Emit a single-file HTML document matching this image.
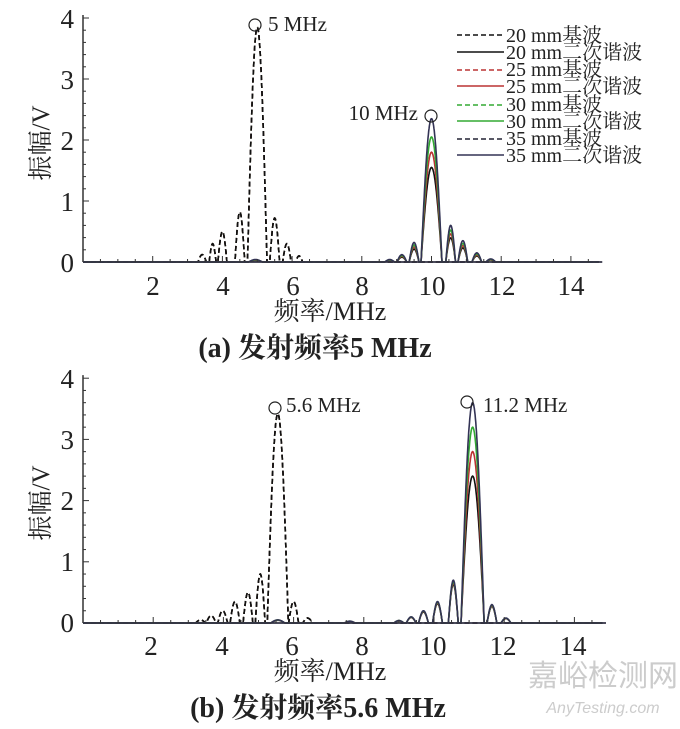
<!DOCTYPE html>
<html><head><meta charset="utf-8"><style>
body{margin:0;background:#fff;}
svg{display:block;}
text{font-family:"Liberation Serif","Noto Serif CJK SC",serif;fill:#222;}
</style></head><body>
<svg id="s" width="680" height="729" viewBox="0 0 680 729" xmlns="http://www.w3.org/2000/svg">
<g id="g"></g>
<g font-size="27" text-anchor="end">
<text x="74" y="28">4</text><text x="74" y="89">3</text><text x="74" y="150">2</text><text x="74" y="211">1</text><text x="74" y="272">0</text>
<text x="74" y="388">4</text><text x="74" y="449">3</text><text x="74" y="510">2</text><text x="74" y="571">1</text><text x="74" y="632">0</text>
</g>
<g font-size="27" text-anchor="middle">
<text x="153" y="295">2</text><text x="223" y="295">4</text><text x="293" y="295">6</text><text x="362" y="295">8</text><text x="432" y="295">10</text><text x="502" y="295">12</text><text x="571" y="295">14</text>
<text x="151" y="655">2</text><text x="222" y="655">4</text><text x="292" y="655">6</text><text x="362" y="655">8</text><text x="433" y="655">10</text><text x="503" y="655">12</text><text x="573" y="655">14</text>
</g>
<text x="330" y="320" font-size="26" text-anchor="middle">频率/MHz</text>
<text transform="translate(49,143) rotate(-90)" font-size="25" text-anchor="middle">振幅/V</text>
<text x="315" y="357" font-size="28" font-weight="bold" text-anchor="middle">(a) 发射频率5 MHz</text>
<text x="268" y="31" font-size="21">5 MHz</text>
<text x="418" y="120" font-size="21" text-anchor="end">10 MHz</text>
<g font-size="20">
<text x="506" y="42">20 mm基波</text>
<text x="506" y="59">20 mm二次谐波</text>
<text x="506" y="76">25 mm基波</text>
<text x="506" y="93">25 mm二次谐波</text>
<text x="506" y="111">30 mm基波</text>
<text x="506" y="128">30 mm二次谐波</text>
<text x="506" y="145">35 mm基波</text>
<text x="506" y="162">35 mm二次谐波</text>
</g>
<g stroke-width="1.6">
<line x1="457" y1="35" x2="504" y2="35" stroke="#111" stroke-dasharray="5,3"/>
<line x1="457" y1="52" x2="504" y2="52" stroke="#111"/>
<line x1="457" y1="70" x2="504" y2="70" stroke="#b33" stroke-dasharray="5,3"/>
<line x1="457" y1="86" x2="504" y2="86" stroke="#b33"/>
<line x1="457" y1="105" x2="504" y2="105" stroke="#3a3" stroke-dasharray="5,3"/>
<line x1="457" y1="121" x2="504" y2="121" stroke="#3a3"/>
<line x1="457" y1="139" x2="504" y2="139" stroke="#223" stroke-dasharray="5,3"/>
<line x1="457" y1="155" x2="504" y2="155" stroke="#335"/>
</g>
<text x="330" y="680" font-size="26" text-anchor="middle">频率/MHz</text>
<text transform="translate(49,503) rotate(-90)" font-size="25" text-anchor="middle">振幅/V</text>
<text x="318" y="717" font-size="28" font-weight="bold" text-anchor="middle">(b) 发射频率5.6 MHz</text>
<text x="286" y="412" font-size="21">5.6 MHz</text>
<text x="483" y="412" font-size="21">11.2 MHz</text>
<text x="603" y="686" font-size="30" text-anchor="middle" style="fill:#ccc;font-family:'Noto Sans CJK SC',sans-serif">嘉峪检测网</text>
<text x="603" y="713" font-size="16" font-style="italic" text-anchor="middle" style="fill:#ccc;font-family:'Liberation Sans',sans-serif">AnyTesting.com</text>
</svg>
<script>
var g=document.getElementById('g'),NS='http://www.w3.org/2000/svg';
function el(n,a){var e=document.createElementNS(NS,n);for(var k in a)e.setAttribute(k,a[k]);g.appendChild(e);return e;}
function bump(f,c,a,hw){var d=Math.abs(f-c);return d<hw?a*Math.cos(d/hw*Math.PI/2):0;}
function panel(x0,px2,y0,py,curves){
 el('line',{x1:x0,y1:y0-py*4.05,x2:x0,y2:y0,stroke:'#333','stroke-width':1.5});
 for(var v=0;v<=4.001;v+=0.2){var y=y0-v*py;el('line',{x1:x0,y1:y,x2:x0+(Math.abs(v-Math.round(v))<0.01?6:3),y2:y,stroke:'#333','stroke-width':1});}
 curves.forEach(function(p){
  var d='';for(var f=0;f<=14.8;f+=0.01){var a=bump(f,p.f,p.a,p.hw);
   p.s.forEach(function(s){a=Math.max(a,bump(f,s[0],s[1]*p.k,s[2]||0.14));});
   d+=(d?'L':'M')+(x0+f*px2/2).toFixed(1)+','+(y0-a*py).toFixed(1);}
  var o={d:d,fill:'none',stroke:p.c,'stroke-width':1.6};if(p.dash)o['stroke-dasharray']='5,3';el('path',o);
 });
 el('line',{x1:x0,y1:y0,x2:x0+px2*7.45,y2:y0,stroke:'#334','stroke-width':1.8});
 for(var f=0.5;f<=14.9;f+=0.5){var x=x0+f*px2/2;el('line',{x1:x,y1:y0,x2:x,y2:y0-(f%2==0?6:3),stroke:'#333','stroke-width':1});}
}
var sF1=[[4.5,0.82],[4.0,0.5,0.13],[3.72,0.3,0.1],[3.42,0.12,0.12],[5.5,0.72],[5.85,0.3,0.12],[6.2,0.1,0.1]];
var sH1=[[9.5,0.32],[9.15,0.12],[8.8,0.04],[10.55,0.6],[10.9,0.35],[11.3,0.15],[11.7,0.05],[4.95,0.04,0.2]];
var sF2=[[5.05,0.8],[4.7,0.5],[4.33,0.35],[3.98,0.2],[3.65,0.12],[3.35,0.05],[6.0,0.35],[6.4,0.08]];
var sH2=[[10.55,0.7],[10.1,0.35],[9.7,0.2],[9.35,0.1],[9.0,0.04],[11.65,0.3],[12.05,0.08],[5.55,0.05,0.2],[7.6,0.03,0.15]];
var c1=[],c2=[];
['#3a3','#b33','#223','#111'].forEach(function(c){
 c1.push({f:5,hw:0.28,a:3.85,k:1,s:sF1,c:c,dash:1});
 c2.push({f:5.55,hw:0.3,a:3.42,k:1,s:sF2,c:c,dash:1});});
[[1.55,'#111',2.4],[1.8,'#b33',2.8],[2.05,'#3a3',3.2],[2.35,'#335',3.6]].forEach(function(h){
 c1.push({f:10,hw:0.3,a:h[0],k:h[0]/2.35,s:sH1,c:h[1]});
 c2.push({f:11.1,hw:0.33,a:h[2],k:0.7+0.3*h[2]/3.6,s:sH2,c:h[1]});});
panel(83,69.7,262,61,c1);
panel(83,70.2,623,61.2,c2);
[[255,25],[431,116],[275,408],[467,402]].forEach(function(p){el('circle',{cx:p[0],cy:p[1],r:6,fill:'none',stroke:'#222','stroke-width':1.2});});
</script>
</body></html>
